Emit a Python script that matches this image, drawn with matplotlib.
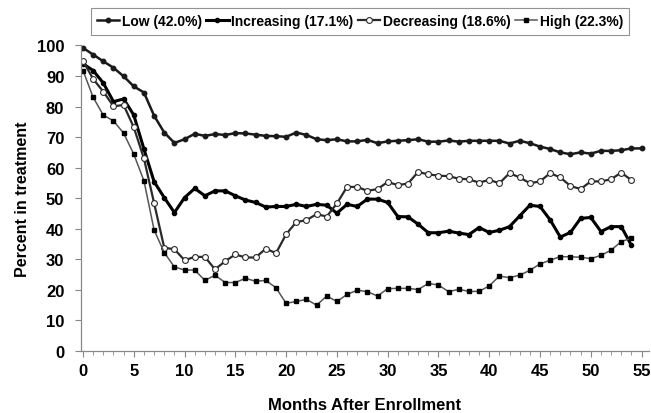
import matplotlib
matplotlib.use('Agg')
import matplotlib.pyplot as plt
from matplotlib.ticker import MultipleLocator

plt.rcParams['font.family'] = ['Liberation Sans', 'DejaVu Sans']
plt.rcParams['font.weight'] = 'bold'

# months after enrollment
months_low = list(range(0, 56))
months = list(range(0, 55))

low = [99.2, 97.0, 94.8, 92.7, 89.9, 86.6, 84.6, 77.0, 71.5, 68.1,
       69.3, 71.1, 70.4, 71.0, 70.7, 71.3, 71.2, 70.8, 70.4, 70.3,
       70.1, 71.5, 70.7, 69.3, 69.0, 69.3, 68.6, 68.6, 69.1, 68.0,
       68.6, 68.8, 69.0, 69.3, 68.5, 68.5, 68.9, 68.5, 68.8, 68.8,
       68.8, 68.8, 67.9, 68.8, 68.0, 66.9, 66.1, 65.0, 64.4, 65.0,
       64.6, 65.5, 65.5, 65.7, 66.3, 66.3]

increasing = [94.0, 91.8, 87.7, 81.6, 82.5, 77.2, 66.1, 55.4, 50.2, 45.3,
              50.2, 53.2, 50.8, 52.4, 52.4, 50.8, 49.4, 48.6, 47.1, 47.3,
              47.3, 48.0, 47.3, 48.0, 47.7, 45.1, 48.0, 47.3, 49.7, 49.7,
              48.6, 44.0, 43.9, 41.5, 38.7, 38.7, 39.2, 38.6, 38.1, 40.4,
              38.8, 39.5, 40.7, 44.2, 47.7, 47.3, 42.9, 37.3, 38.8, 43.4,
              43.7, 39.1, 40.7, 40.7, 34.6]

decreasing = [95.0, 89.0, 84.9, 80.1, 80.5, 73.2, 63.0, 48.4, 33.8, 33.3,
              29.7, 30.8, 30.8, 26.7, 29.4, 31.6, 30.6, 30.6, 33.5, 32.0,
              38.2, 42.2, 42.8, 44.8, 44.0, 48.3, 53.7, 53.7, 52.4, 53.0,
              55.3, 54.3, 54.8, 58.6, 57.8, 57.4, 57.2, 56.4, 56.2, 55.1,
              56.0, 54.9, 58.2, 56.8, 54.9, 55.5, 58.2, 56.8, 54.0, 53.0,
              55.5, 55.5, 56.2, 58.4, 55.9]

high = [91.8, 83.0, 77.2, 75.3, 71.3, 64.4, 55.7, 39.6, 32.2, 27.5,
        26.5, 26.5, 23.1, 24.8, 22.4, 22.4, 23.8, 22.8, 23.1, 20.7,
        15.6, 16.2, 16.9, 15.0, 18.0, 16.2, 18.5, 19.9, 19.4, 18.0,
        20.4, 20.5, 20.5, 20.1, 22.1, 21.6, 19.4, 20.2, 19.5, 19.5,
        21.3, 24.5, 24.0, 24.8, 26.4, 28.5, 29.7, 30.9, 30.8, 30.7,
        30.2, 31.3, 33.0, 35.8, 36.9]

labels = ['Low (42.0%)', 'Increasing (17.1%)', 'Decreasing (18.6%)', 'High (22.3%)']

fig = plt.figure(figsize=(6.51, 4.14), dpi=100)
ax = fig.add_axes([0.1244, 0.1498, 0.872, 0.738])

ax.plot(months_low, low, color='#1a1a1a', lw=1.8, marker='o', ms=3.2,
        label=labels[0])
ax.plot(months, increasing, color='black', lw=2.2, marker='o', ms=3.0,
        label=labels[1])
ax.plot(months, decreasing, color='#2a2a2a', lw=1.6, marker='o', ms=4.2,
        mfc='white', mec='#2a2a2a', mew=0.8, label=labels[2])
ax.plot(months, high, color='#555555', lw=1.1, marker='s', ms=3.3,
        mfc='black', mec='black', label=labels[3])

ax.set_xlim(-0.2, 55.7)
ax.set_ylim(0, 100)
ax.xaxis.set_major_locator(MultipleLocator(5))
ax.xaxis.set_minor_locator(MultipleLocator(1))
ax.yaxis.set_major_locator(MultipleLocator(10))

for s in ['top', 'right']:
    ax.spines[s].set_visible(False)
for s in ['left', 'bottom']:
    ax.spines[s].set_color('#888888')
    ax.spines[s].set_linewidth(0.9)

ax.tick_params(axis='both', which='major', direction='out', length=4,
               color='#888888', labelsize=12)
ax.tick_params(axis='y', which='major', pad=8)
ax.tick_params(axis='x', which='major', pad=5)
ax.tick_params(axis='x', which='minor', direction='out', length=3,
               color='#888888')
for t in ax.get_xticklabels() + ax.get_yticklabels():
    t.set_fontweight('bold')

ax.set_ylabel('Percent in treatment', fontsize=11.5, fontweight='bold',
              labelpad=5)
ax.set_xlabel('Months After Enrollment', fontsize=12, fontweight='bold',
              labelpad=13)

leg = fig.legend(loc='center', bbox_to_anchor=(0.553, 0.946), ncol=4,
                 frameon=True, fancybox=False, edgecolor='#777777',
                 handlelength=1.6, handletextpad=0.2,
                 columnspacing=0.3, borderpad=0.45,
                 prop={'weight': 'bold', 'size': 10})
leg.get_frame().set_linewidth(0.8)

fig.savefig('out.png', dpi=100)
